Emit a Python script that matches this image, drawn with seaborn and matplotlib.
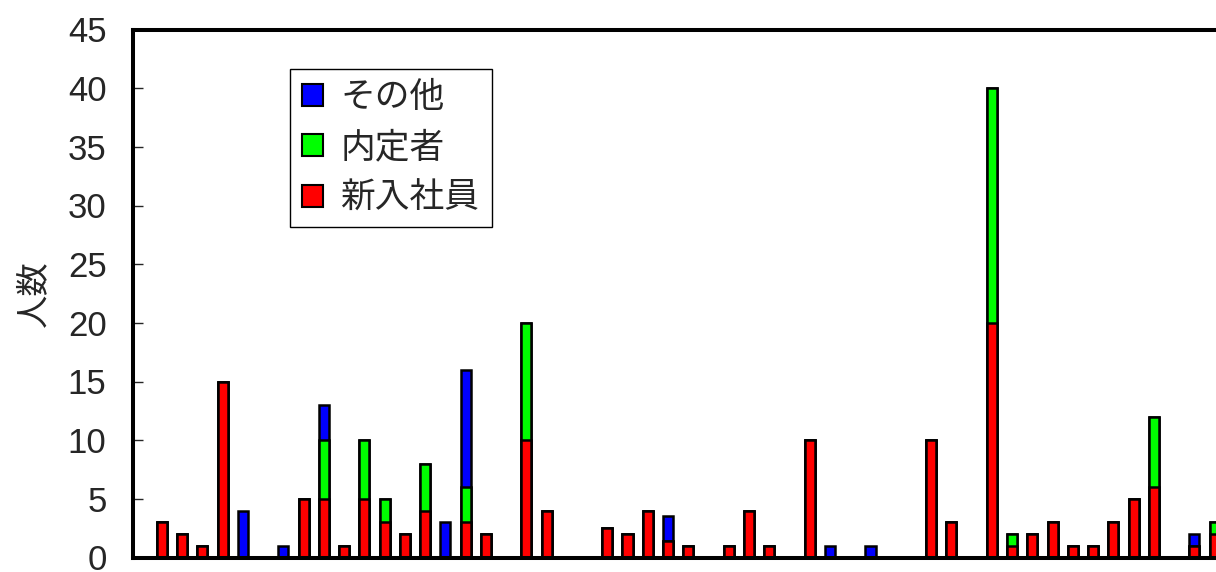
import matplotlib
matplotlib.use("Agg")
import matplotlib.pyplot as plt
from matplotlib.patches import Patch
import seaborn as sns
import numpy as np

# one slot per category, empty slots are zero
categories = [str(i + 1) for i in range(53)]
shinnyu = [3, 2, 1, 15, 0, 0, 0, 5, 5, 1, 5, 3, 2, 4, 0, 3, 2, 0, 10, 4,
           0, 0, 2.5, 2, 4, 1.4, 1, 0, 1, 4, 1, 0, 10, 0, 0, 0, 0, 0, 10, 3,
           0, 20, 1, 2, 3, 1, 1, 3, 5, 6, 0, 1, 2]
naiteisha = [0, 0, 0, 0, 0, 0, 0, 0, 5, 0, 5, 2, 0, 4, 0, 3, 0, 0, 10, 0,
             0, 0, 0, 0, 0, 0, 0, 0, 0, 0, 0, 0, 0, 0, 0, 0, 0, 0, 0, 0,
             0, 20, 1, 0, 0, 0, 0, 0, 0, 6, 0, 0, 1]
sonota = [0, 0, 0, 0, 4, 0, 1, 0, 3, 0, 0, 0, 0, 0, 3, 10, 0, 0, 0, 0,
          0, 0, 0, 0, 0, 2.1, 0, 0, 0, 0, 0, 0, 0, 1, 0, 1, 0, 0, 0, 0,
          0, 0, 0, 0, 0, 0, 0, 0, 0, 0, 0, 1, 0]
series_names = ["その他", "内定者", "新入社員"]
series_colors = ["#0000FF", "#00FF00", "#FF0000"]

sns.set_style("white")
plt.rcParams['font.family'] = ['Liberation Sans', 'Noto Sans CJK JP', 'DejaVu Sans']

fig = plt.figure(figsize=(12.16, 5.72), dpi=100)
ax = fig.add_axes([133 / 1216, 14.5 / 572, 1083 / 1216, 528 / 572])

red = np.array(shinnyu)
green = red + np.array(naiteisha)
blue = green + np.array(sonota)

# stacked: draw totals first, then overlay lower parts
for vals, col in [(blue, series_colors[0]), (green, series_colors[1]), (red, series_colors[2])]:
    sns.barplot(x=categories, y=vals, order=categories, color=col, saturation=1,
                width=0.5, edgecolor="black", linewidth=1.8, errorbar=None, ax=ax)

ax.set_xlim(-1.43, 52.07)
ax.set_ylim(0, 45)
ax.set_yticks(range(0, 46, 5))
ax.tick_params(axis="y", direction="in", length=7, width=1, labelsize=25, pad=19, left=True)
ax.tick_params(axis="x", bottom=False, labelbottom=False)
ax.set_xlabel("")
ax.set_ylabel("人数", fontsize=24)
ax.yaxis.set_label_coords(-0.077, 0.5)

for side in ["left", "top", "bottom"]:
    ax.spines[side].set_linewidth(2.9)
    ax.spines[side].set_color("black")
ax.spines["right"].set_visible(False)

handles = [Patch(facecolor=c, edgecolor="black", linewidth=1.5) for c in series_colors]
leg = ax.legend(handles, series_names, loc="upper left", bbox_to_anchor=(0.145, 0.925),
                borderaxespad=0, fontsize=25, handlelength=0.6, handleheight=0.6,
                handletextpad=0.5, labelspacing=0.5, borderpad=0.35,
                fancybox=False, framealpha=1, edgecolor="black")
leg.get_frame().set_linewidth(1)

plt.savefig("out.png", dpi=100)
